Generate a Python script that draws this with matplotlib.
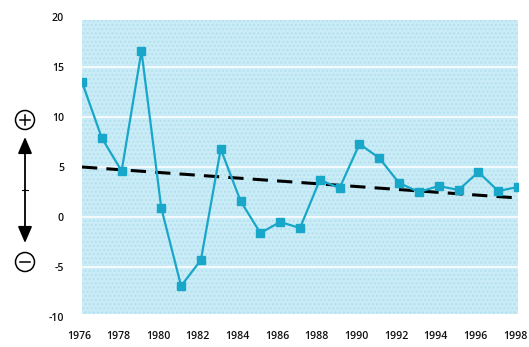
import matplotlib
matplotlib.use("Agg")
import matplotlib.pyplot as plt
import matplotlib.transforms as mtransforms
from matplotlib.patches import Circle, FancyArrowPatch

plt.rcParams["axes.unicode_minus"] = False

years = list(range(1976, 1999))
values = [13.5, 7.9, 4.6, 16.6, 0.9, -6.9, -4.3, 6.8, 1.6, -1.6, -0.5, -1.1,
          3.7, 2.9, 7.3, 5.9, 3.4, 2.5, 3.1, 2.7, 4.5, 2.6, 3.0]
trend_years = [1976, 1998]
trend_values = [5.0, 1.9]
y_ticks = [-10, -5, 0, 5, 10, 15, 20]
x_ticks = list(range(1976, 1999, 2))

W, H = 529, 347
fig = plt.figure(figsize=(W / 100, H / 100), dpi=100)
ax = fig.add_axes([82 / W, (H - 317) / H, (518 - 82) / W, 300 / H])
ax.set_xlim(1976, 1998)
ax.set_ylim(-10, 20)
for s in ax.spines.values():
    s.set_visible(False)
ax.patch.set_alpha(0)

# dotted light-blue panel
ax.axhspan(-9.7, 19.7, facecolor="#c9ecf6", edgecolor="#b3e0f0", hatch="....",
           linewidth=0, zorder=0)
for g in [-5, 0, 5, 10, 15]:
    ax.axhline(g, color="white", lw=1.2, zorder=1)

ax.plot(trend_years, trend_values, color="black", lw=2.2, ls=(0, (5, 3)), zorder=2)
ax.plot(years, values, color="#18a6c9", lw=1.6, marker="s", ms=5.5,
        markerfacecolor="#18a6c9", markeredgecolor="#18a6c9", zorder=3)

ax.set_yticks(y_ticks)
ax.set_xticks(x_ticks)
ax.tick_params(length=0, labelsize=7.6, labelcolor="#111111", pad=0)
ax.tick_params(axis="y", pad=13)
ax.tick_params(axis="x", pad=10)
shift = mtransforms.ScaledTranslation(-3 / 100, 0, fig.dpi_scale_trans)
for lab in ax.get_xticklabels():
    lab.set_transform(lab.get_transform() + shift)
for lab in ax.get_xticklabels() + ax.get_yticklabels():
    lab.set_fontfamily("Open Sans")
    lab.set_fontweight("semibold")

# direction marker on the left
ov = fig.add_axes([0, 0, 1, 1])
ov.set_xlim(0, W)
ov.set_ylim(H, 0)
ov.axis("off")
ov.patch.set_alpha(0)
ov.add_patch(Circle((25, 120), 9.5, fill=False, ec="black", lw=1.1))
ov.add_patch(Circle((25, 262), 9.5, fill=False, ec="black", lw=1.1))
ov.plot([20, 30], [120, 120], color="black", lw=1.1)
ov.plot([25, 25], [115, 125], color="black", lw=1.1)
ov.plot([20, 30], [262, 262], color="black", lw=1.1)
ov.plot([22, 28], [190, 190], color="black", lw=0.8)
for end in (137, 243):
    ov.add_patch(FancyArrowPatch((25, 190), (25, end),
                                 arrowstyle="-|>,head_length=10,head_width=4.3",
                                 color="black", lw=1.3, mutation_scale=1,
                                 shrinkA=0, shrinkB=0))

fig.savefig("out.png", dpi=100)
